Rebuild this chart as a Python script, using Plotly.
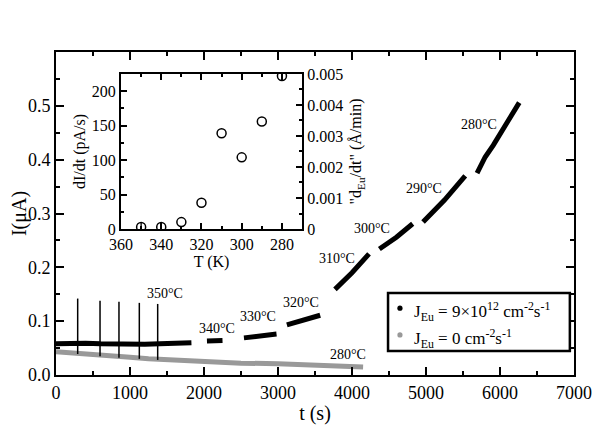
import plotly.graph_objects as go

# main panel: current vs time (None = gap between temperature steps)
t_on = [0, 200, 400, 600, 800, 1000, 1200, 1400, 1600, 1830, None,
        2040, 2250, None,
        2540, 2760, 2980, None,
        3120, 3350, 3570, None,
        3770, 4000, 4230, None,
        4370, 4600, 4820, None,
        4960, 5250, 5530, None,
        5690, 5800, 5910, 6080, 6260]
i_on = [0.058, 0.059, 0.059, 0.058, 0.057, 0.056, 0.057, 0.058, 0.059, 0.060, None,
        0.063, 0.064, None,
        0.069, 0.072, 0.076, None,
        0.093, 0.101, 0.111, None,
        0.159, 0.190, 0.225, None,
        0.234, 0.256, 0.281, None,
        0.284, 0.325, 0.370, None,
        0.375, 0.405, 0.427, 0.465, 0.506]

t_off = [0, 250, 500, 750, 1000, 1250, 1500, 1750, 2000, 2500, 3000, 3500, 4000, 4150]
i_off = [0.043, 0.041, 0.038, 0.036, 0.033, 0.030, 0.028, 0.027, 0.025, 0.022, 0.021, 0.019, 0.016, 0.015]

t_spike = [293, 595, 851, 1126, 1374]
spike_lo = [0.039, 0.035, 0.032, 0.030, 0.028]
spike_hi = [0.142, 0.138, 0.136, 0.134, 0.132]

labels = ["350°C", "340°C", "330°C", "320°C", "310°C", "300°C", "290°C", "280°C", "280°C"]
label_t = [1470, 2170, 2730, 3306, 3793, 4266, 4973, 5720, 3950]
label_i = [0.152, 0.087, 0.108, 0.134, 0.217, 0.272, 0.347, 0.466, 0.039]

legend_names = ["J<sub>Eu</sub> = 9×10<sup>12</sup> cm<sup>-2</sup>s<sup>-1</sup>",
                "J<sub>Eu</sub> = 0 cm<sup>-2</sup>s<sup>-1</sup>"]
legend_colors = ["black", "#999999"]

# inset: rate vs temperature
T_K = [350, 340, 330, 320, 310, 300, 290, 280]
dIdt = [3, 3, 10, 38, 139, 104, 156, 222]
dIdt_err = [6, 6, 0, 0, 0, 0, 0, 6]

serif = "Liberation Serif, Times New Roman, serif"

sx, sy = [], []
for t, lo, hi in zip(t_spike, spike_lo, spike_hi):
    sx += [t, t, None]
    sy += [lo, hi, None]

fig = go.Figure()
fig.add_trace(go.Scatter(x=t_off, y=i_off, mode="lines", line=dict(color="#999999", width=5),
                         showlegend=False))
fig.add_trace(go.Scatter(x=sx, y=sy, mode="lines", line=dict(color="black", width=1.5),
                         showlegend=False))
fig.add_trace(go.Scatter(x=t_on, y=i_on, mode="lines", line=dict(color="black", width=5),
                         connectgaps=False, showlegend=False))

# inset
fig.add_trace(go.Scatter(x=T_K, y=dIdt, mode="markers", xaxis="x2", yaxis="y2",
                         marker=dict(symbol="circle-open", size=9, color="black",
                                     line=dict(width=1.5, color="black")),
                         error_y=dict(type="data", array=dIdt_err, width=0, thickness=1.3,
                                      color="black"),
                         showlegend=False))
fig.add_trace(go.Scatter(x=[None], y=[None], xaxis="x2", yaxis="y3", showlegend=False))

for txt, t, v in zip(labels, label_t, label_i):
    fig.add_annotation(x=t, y=v, text=txt, showarrow=False, xref="x", yref="y",
                       font=dict(family=serif, size=14, color="black"))

# hand-made legend box (tighter than plotly's own legend)
fig.add_shape(type="rect", xref="paper", yref="paper", x0=0.641, x1=0.992, y0=0.074, y1=0.254,
              line=dict(color="black", width=2.5), fillcolor="white", layer="above")
for k, (name, col) in enumerate(zip(legend_names, legend_colors)):
    yc = 0.207 - k * 0.083
    fig.add_shape(type="circle", xref="paper", yref="paper",
                  x0=0.659, x1=0.669, y0=yc - 0.008, y1=yc + 0.008,
                  line=dict(width=0), fillcolor=col, layer="above")
    fig.add_annotation(x=0.688, y=yc - 0.01, xref="paper", yref="paper", text=name,
                       xanchor="left", yanchor="middle", showarrow=False,
                       font=dict(family=serif, size=17, color="black"))

ax_common = dict(showgrid=False, zeroline=False, showline=True, linecolor="black",
                 linewidth=2, ticks="inside", tickcolor="black", tickwidth=2,
                 mirror="ticks", automargin=False)
inset_y = dict(showgrid=False, zeroline=False, showline=True, linecolor="black",
               linewidth=2, ticks="inside", tickcolor="black", tickwidth=2)

# the page body adds an 8px offset, so the figure is 8px smaller
fig.update_layout(
    width=605, height=424,
    margin=dict(l=48, r=39, t=44, b=57),
    paper_bgcolor="white", plot_bgcolor="white",
    font=dict(family=serif, color="black"),
    showlegend=False,
    xaxis=dict(range=[0, 7000], dtick=1000, ticklen=8,
               minor=dict(ticks="inside", dtick=500, ticklen=4, tickcolor="black"),
               tickfont=dict(family=serif, size=18),
               title=dict(text="t (s)", font=dict(family=serif, size=20), standoff=4),
               **ax_common),
    yaxis=dict(range=[0, 0.6], tickvals=[0, 0.1, 0.2, 0.3, 0.4, 0.5], tickformat=".1f",
               ticklen=8,
               minor=dict(ticks="inside", dtick=0.05, ticklen=4, tickcolor="black"),
               tickfont=dict(family=serif, size=18),
               title=dict(text="I(μA)", font=dict(family=serif, size=20), standoff=6),
               **ax_common),
    xaxis2=dict(domain=[0.1255, 0.475], anchor="y2", range=[360, 270],
                tickvals=[360, 340, 320, 300, 280], ticklen=6,
                minor=dict(ticks="inside", dtick=10, ticklen=3, tickcolor="black"),
                tickfont=dict(family=serif, size=16),
                title=dict(text="T (K)", font=dict(family=serif, size=16), standoff=0),
                **ax_common),
    yaxis2=dict(domain=[0.452, 0.932], anchor="x2", range=[0, 225], dtick=50, ticklen=6,
                minor=dict(ticks="inside", dtick=25, ticklen=3, tickcolor="black"),
                tickfont=dict(family=serif, size=16),
                title=dict(text="dI/dt (pA/s)", font=dict(family=serif, size=16), standoff=2),
                **inset_y),
    yaxis3=dict(overlaying="y2", anchor="x2", side="right", range=[0, 0.005],
                tickvals=[0, 0.001, 0.002, 0.003, 0.004, 0.005],
                ticktext=["0", "0.001", "0.002", "0.003", "0.004", "0.005"],
                ticklen=6,
                minor=dict(ticks="inside", dtick=0.0005, ticklen=3, tickcolor="black"),
                tickfont=dict(family=serif, size=16),
                title=dict(text="\"d<sub>Eu</sub>/dt\" (Å/min)", font=dict(family=serif, size=16),
                           standoff=8),
                **inset_y),
)

fig.write_html("out.html")
